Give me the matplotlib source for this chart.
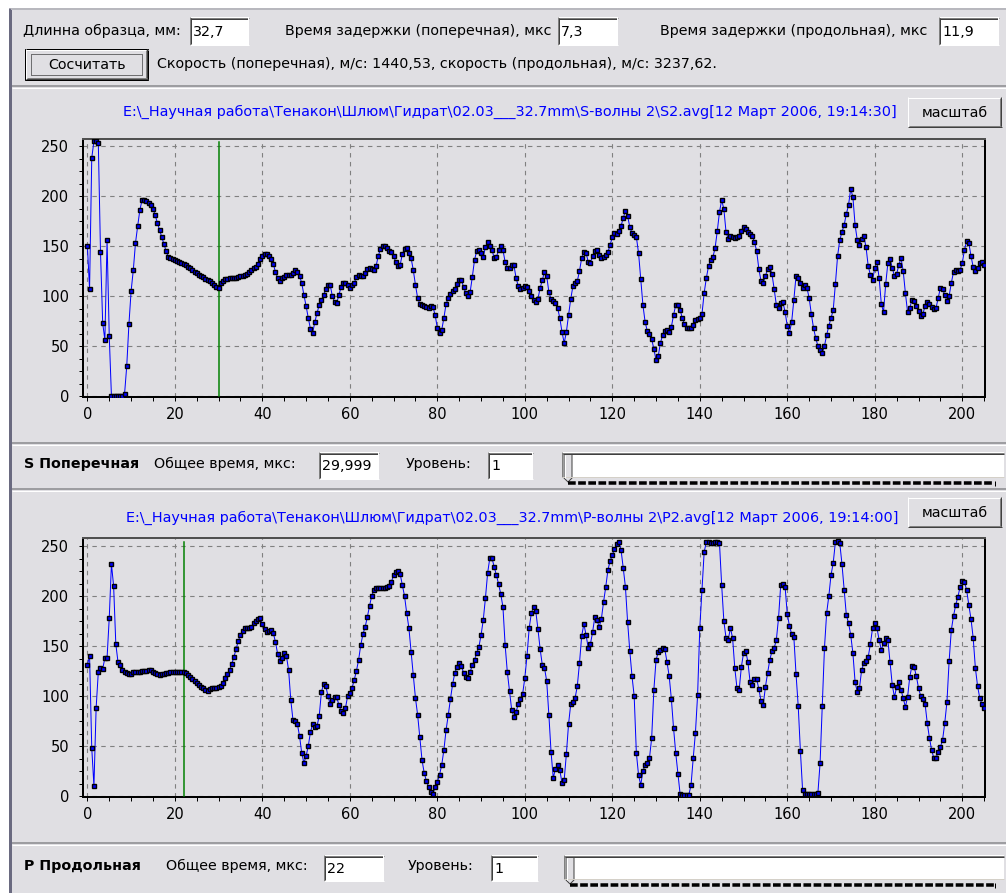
import numpy as np
import matplotlib
matplotlib.use("Agg")
import matplotlib.pyplot as plt
from matplotlib.patches import Rectangle, Polygon
from matplotlib.ticker import MultipleLocator

# time axis, microseconds, one sample every 0.5 us
time_us = np.arange(0, 205.01, 0.5)

# S-wave (shear) trace, S2.avg
s_wave = [
    150, 107, 238, 255, 255, 253, 144, 73, 56, 156, 60, 0, 0, 0, 0, 0, 0, 2, 30, 72,
    105, 126, 153, 170, 186, 196, 196, 195, 193, 191, 187, 181, 173, 166, 159, 152, 145, 139, 138, 137,
    136, 135, 134, 133, 132, 131, 129, 128, 126, 124, 123, 121, 120, 119, 117, 116, 115, 113, 111, 109,
    108, 113, 115, 117, 117, 118, 118, 118, 118, 119, 120, 120, 121, 122, 124, 126, 128, 129, 132, 137,
    140, 142, 142, 140, 137, 132, 124, 118, 115, 118, 119, 121, 121, 121, 123, 126, 124, 120, 113, 101,
    90, 78, 67, 63, 74, 83, 91, 96, 101, 107, 111, 111, 100, 94, 93, 101, 109, 113, 113, 111,
    108, 111, 113, 119, 121, 120, 120, 123, 127, 128, 127, 126, 130, 140, 147, 150, 150, 148, 145, 144,
    140, 134, 130, 131, 142, 147, 148, 143, 138, 126, 111, 98, 92, 91, 90, 89, 88, 90, 89, 81,
    68, 63, 66, 78, 92, 98, 102, 105, 107, 112, 116, 116, 109, 103, 100, 104, 119, 136, 145, 146,
    143, 139, 149, 154, 150, 146, 138, 139, 146, 150, 146, 134, 128, 128, 131, 131, 118, 110, 107, 108,
    110, 109, 105, 100, 96, 94, 97, 108, 116, 124, 120, 104, 97, 95, 93, 88, 78, 64, 53, 64,
    81, 97, 110, 113, 115, 125, 138, 144, 143, 134, 133, 140, 145, 146, 141, 138, 139, 141, 144, 151,
    159, 163, 162, 165, 170, 178, 185, 180, 169, 163, 161, 159, 143, 117, 91, 74, 65, 62, 57, 47,
    36, 40, 53, 61, 65, 66, 64, 69, 81, 91, 91, 86, 78, 72, 68, 68, 68, 71, 76, 77,
    78, 82, 103, 118, 130, 136, 139, 148, 165, 184, 196, 187, 164, 157, 160, 159, 158, 159, 160, 165,
    169, 167, 164, 162, 160, 154, 145, 127, 115, 113, 120, 127, 129, 122, 107, 91, 88, 93, 94, 84,
    70, 63, 74, 96, 120, 118, 113, 108, 111, 108, 98, 82, 68, 58, 50, 46, 43, 50, 61, 70,
    78, 86, 112, 140, 156, 164, 171, 182, 191, 207, 199, 171, 156, 151, 157, 160, 149, 130, 121, 116,
    128, 134, 118, 92, 84, 112, 133, 137, 128, 120, 122, 131, 138, 125, 103, 84, 88, 96, 95, 90,
    85, 80, 82, 90, 94, 92, 89, 87, 88, 98, 108, 107, 101, 95, 100, 113, 124, 126, 125, 126,
    133, 146, 155, 153, 140, 129, 125, 128, 133, 134, 131,
]

# P-wave (longitudinal) trace, P2.avg
p_wave = [
    131, 140, 48, 10, 88, 124, 128, 127, 138, 138, 178, 232, 210, 152, 134, 131, 126, 124, 123, 122,
    122, 124, 124, 124, 124, 125, 125, 125, 126, 126, 124, 123, 122, 121, 122, 122, 123, 123, 124, 124,
    124, 124, 124, 124, 124, 123, 121, 119, 117, 115, 113, 111, 109, 108, 106, 105, 107, 108, 108, 108,
    109, 110, 113, 118, 122, 126, 132, 139, 147, 155, 161, 165, 168, 168, 168, 169, 173, 175, 177, 178,
    172, 167, 164, 165, 166, 163, 154, 142, 135, 138, 143, 140, 126, 96, 76, 75, 72, 60, 43, 33,
    40, 50, 64, 72, 69, 70, 80, 104, 112, 110, 100, 92, 96, 99, 99, 91, 85, 83, 88, 100,
    103, 108, 116, 125, 136, 151, 162, 169, 179, 190, 200, 206, 208, 208, 208, 208, 208, 209, 210, 214,
    221, 224, 225, 222, 211, 200, 183, 168, 144, 121, 98, 81, 59, 36, 23, 15, 9, 4, 2, 9,
    14, 21, 31, 46, 66, 81, 97, 112, 123, 129, 133, 130, 123, 119, 118, 124, 131, 136, 143, 149,
    161, 176, 198, 223, 238, 238, 229, 221, 212, 202, 189, 151, 124, 105, 86, 79, 84, 92, 97, 102,
    118, 140, 168, 183, 189, 185, 167, 147, 131, 128, 115, 81, 44, 18, 27, 31, 26, 13, 16, 42,
    72, 92, 94, 98, 110, 133, 160, 172, 161, 148, 152, 164, 179, 176, 169, 177, 194, 209, 226, 235,
    241, 247, 252, 254, 246, 228, 209, 174, 145, 120, 100, 43, 21, 11, 25, 31, 33, 38, 58, 106,
    136, 144, 146, 148, 147, 134, 120, 97, 68, 43, 22, 2, 1, 1, 1, 1, 11, 38, 63, 101,
    168, 206, 244, 254, 254, 253, 253, 254, 254, 253, 211, 175, 158, 156, 168, 158, 128, 108, 106, 129,
    143, 145, 134, 114, 111, 117, 117, 107, 95, 91, 109, 123, 136, 145, 148, 156, 178, 211, 212, 209,
    182, 170, 162, 159, 122, 90, 45, 6, 2, 2, 2, 2, 2, 2, 3, 33, 90, 148, 183, 200,
    221, 233, 254, 255, 253, 232, 206, 181, 173, 161, 143, 114, 104, 108, 126, 133, 135, 139, 152, 168,
    173, 168, 156, 146, 153, 158, 156, 134, 111, 99, 109, 114, 106, 98, 89, 99, 119, 130, 129, 120,
    108, 100, 97, 92, 73, 58, 46, 38, 38, 44, 49, 56, 73, 94, 135, 166, 180, 191, 199, 209,
    215, 214, 206, 191, 177, 158, 128, 110, 98, 92, 88,
]

s_marker_us = 30.0   # "Общее время" for S
p_marker_us = 22.0   # "Общее время" for P

x_ticks = list(range(0, 201, 20))
y_ticks = list(range(0, 251, 50))

s_title = r"E:\_Научная работа\Тенакон\Шлюм\Гидрат\02.03___32.7mm\S-волны 2\S2.avg[12 Март 2006, 19:14:30]"
p_title = r"E:\_Научная работа\Тенакон\Шлюм\Гидрат\02.03___32.7mm\P-волны 2\P2.avg[12 Март 2006, 19:14:00]"
speed_text = "Скорость (поперечная), м/с: 1440,53, скорость (продольная), м/с: 3237,62."

W, H = 1006, 893
BG = "#E0DFE3"
FS = 10.3
plt.rcParams["font.family"] = ["DejaVu Sans"]


def pt(p):
    return p * 0.72


fig = plt.figure(figsize=(W / 100, H / 100), dpi=100, facecolor="white")
ui = fig.add_axes([0, 0, 1, 1])
ui.set_xlim(0, W)
ui.set_ylim(H, 0)
ui.axis("off")
ui.add_patch(Rectangle((9, 8), W - 9, H - 8, facecolor=BG, edgecolor="none"))


def hline(x0, x1, y, color, w=1):
    ui.plot([x0, x1], [y, y], color=color, lw=pt(w), solid_capstyle="butt")


def vline(x, y0, y1, color, w=1):
    ui.plot([x, x], [y0, y1], color=color, lw=pt(w), solid_capstyle="butt")


def etched(y):
    hline(12, W, y, "#9D9DA1", 2)
    hline(12, W, y + 1.5, "white", 1)


def label(x, y, s, **kw):
    kw.setdefault("fontsize", FS)
    ui.text(x, y, s, ha="left", va="center", **kw)


def edit_box(x0, y0, x1, y1, s):
    ui.add_patch(Rectangle((x0, y0), x1 - x0, y1 - y0, facecolor="white", edgecolor="none"))
    hline(x0, x1, y0 + 0.5, "#808080")
    vline(x0 + 0.5, y0, y1, "#808080")
    hline(x0 + 1, x1 - 1, y0 + 1.5, "#404040")
    vline(x0 + 1.5, y0 + 1, y1 - 1, "#404040")
    hline(x0, x1, y1 - 0.5, "white")
    vline(x1 - 0.5, y0, y1, "white")
    label(x0 + 3, (y0 + y1) / 2 + 1, s)


def button(x0, y0, x1, y1, s, default=False):
    ui.add_patch(Rectangle((x0, y0), x1 - x0, y1 - y0, facecolor=BG, edgecolor="none"))
    if default:
        ui.add_patch(Rectangle((x0 + 0.5, y0 + 0.5), x1 - x0 - 1, y1 - y0 - 1,
                               facecolor="none", edgecolor="black", lw=pt(1)))
        x0, y0, x1, y1 = x0 + 1, y0 + 1, x1 - 1, y1 - 1
    hline(x0, x1, y0 + 0.5, "white")
    vline(x0 + 0.5, y0, y1, "white")
    hline(x0, x1, y1 - 0.5, "#404040")
    vline(x1 - 0.5, y0, y1, "#404040")
    hline(x0 + 1, x1 - 1, y1 - 1.5, "#808080")
    vline(x1 - 1.5, y0 + 1, y1 - 1, "#808080")
    if default:
        ui.add_patch(Rectangle((x0 + 5.5, y0 + 4.5), x1 - x0 - 11, y1 - y0 - 9,
                               facecolor="none", edgecolor="black", lw=pt(1),
                               linestyle=(0, (1, 1))))
    ui.text((x0 + x1) / 2, (y0 + y1) / 2 + 1, s, ha="center", va="center", fontsize=FS)


def slider(x0, y0, x1, y1):
    ui.add_patch(Rectangle((x0, y0), x1 - x0, y1 - y0, facecolor="white", edgecolor="none"))
    hline(x0, x1, y0 + 0.5, "#808080")
    vline(x0 + 0.5, y0, y1, "#808080")
    hline(x0 + 1, x1, y0 + 1.5, "#404040")
    hline(x0, x1, y1 - 0.5, "#D4D0C8")
    # thumb
    tx = x0 + 2
    ui.add_patch(Polygon([[tx, y0 + 2], [tx + 8, y0 + 2], [tx + 8, y1 + 1],
                          [tx + 4, y1 + 5], [tx, y1 + 1]],
                         closed=True, facecolor=BG, edgecolor="#404040", lw=pt(1)))
    vline(tx + 1, y0 + 3, y1 + 1, "white")
    # tick strip under the track
    ui.plot([tx + 4, 994], [y1 + 6, y1 + 6], color="black", lw=pt(3.5),
            linestyle=(0, (2.2, 0.7)), solid_capstyle="butt")
    vline(995, y1 + 4, y1 + 9, "black", 1)


# window frame
vline(10, 8, H, "#6A6A80", 3)
hline(11, W, 9, "#B8B8BE", 2)

# header with inputs
label(23, 31, "Длинна образца, мм:")
edit_box(190, 17, 249, 45, "32,7")
label(285, 31, "Время задержки (поперечная), мкс")
edit_box(558, 17, 618, 45, "7,3")
label(660, 31, "Время задержки (продольная), мкс")
edit_box(939, 17, 999, 45, "11,9")
button(25, 48, 149, 80, "Сосчитать", default=True)
label(157, 64, speed_text)
etched(86)

# S panel
ui.text(510, 112, s_title, ha="center", va="center", color="#0000FF", fontsize=10.35)
button(908, 97, 1002, 127, "масштаб")
etched(443)
label(24, 464, "S Поперечная", fontweight="bold")
label(154, 464, "Общее время, мкс:")
edit_box(319, 452, 379, 479, "29,999")
label(406, 464, "Уровень:")
edit_box(488, 452, 533, 479, "1")
slider(562, 452, 1004, 477)
etched(489)

# P panel
ui.text(512, 518, p_title, ha="center", va="center", color="#0000FF", fontsize=10.35)
button(908, 497, 1002, 527, "масштаб")
etched(843)
label(24, 866, "P Продольная", fontweight="bold")
label(166, 866, "Общее время, мкс:")
edit_box(324, 855, 384, 881, "22")
label(408, 866, "Уровень:")
edit_box(491, 855, 538, 881, "1")
slider(564, 855, 1004, 879)


def wave_axes(top, bottom, ymax, trace, marker_us):
    ax = fig.add_axes([83 / W, 1 - bottom / H, (985 - 83) / W, (bottom - top) / H])
    ax.set_facecolor(BG)
    ax.set_xlim(-1, 205.2)
    ax.set_ylim(-1, ymax)
    ax.set_xticks(x_ticks)
    ax.set_yticks(y_ticks)
    ax.xaxis.set_minor_locator(MultipleLocator(5))
    ax.yaxis.set_minor_locator(MultipleLocator(12.5))
    ax.tick_params(which="both", direction="out", length=pt(4), width=pt(1),
                   labelsize=10.5, pad=4)
    ax.tick_params(axis="y", pad=7)
    ax.grid(True, which="major", color="#808080", linestyle=(0, (4, 4)), linewidth=0.8)
    for side in ("left", "bottom", "right"):
        ax.spines[side].set_color("black")
        ax.spines[side].set_linewidth(pt(2))
    ax.spines["top"].set_color("#505050")
    ax.spines["top"].set_linewidth(pt(2))
    ax.plot([marker_us, marker_us], [0, 254], color="#008000", lw=pt(1.5), zorder=3)
    ax.plot(time_us, trace, color="#0000FF", lw=pt(1), marker="s", markersize=3.4,
            markerfacecolor="#0000FF", markeredgecolor="black", markeredgewidth=1.0, zorder=4)
    return ax


wave_axes(139, 397, 257, s_wave, s_marker_us)
wave_axes(538, 797, 258, p_wave, p_marker_us)

fig.savefig("out.png", dpi=100, facecolor="white")
